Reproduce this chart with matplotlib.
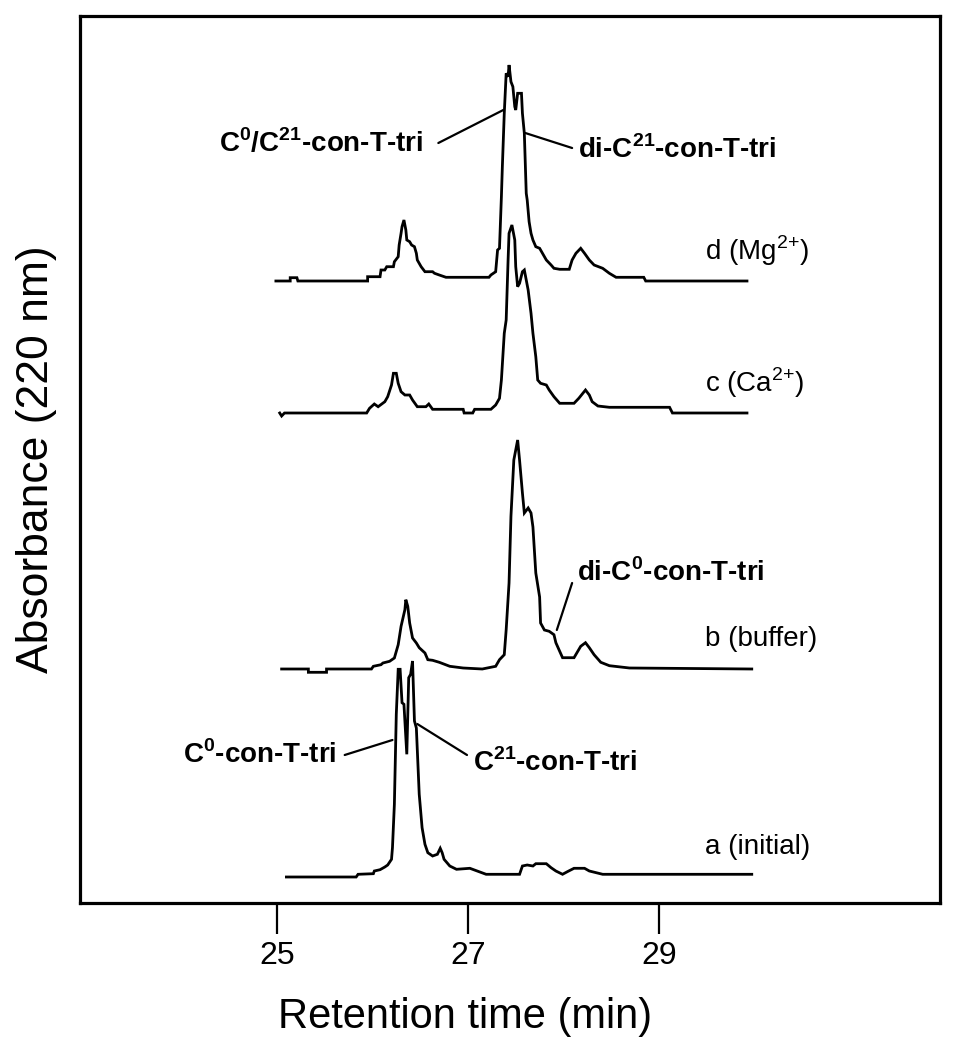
import matplotlib
matplotlib.use("Agg")
from matplotlib import pyplot as plt
from matplotlib import font_manager

# chromatogram traces, (retention time in min, absorbance above own baseline, a.u.)
trace_a = [(25.10, 0), (25.83, 0), (25.85, 2.7), (26.01, 3.3), (26.02, 6), (26.08, 7.3),
           (26.13, 10), (26.16, 12), (26.20, 17.7), (26.21, 29.3), (26.23, 72.7), (26.25, 162.7),
           (26.27, 207.7), (26.29, 207.7), (26.31, 174.3), (26.33, 172.7), (26.36, 122.7),
           (26.38, 199.3), (26.40, 202.7), (26.42, 216), (26.44, 156), (26.46, 149), (26.49, 82.7),
           (26.52, 49.3), (26.55, 32.7), (26.58, 24.3), (26.63, 21), (26.68, 22.7), (26.71, 28.7),
           (26.73, 24.3), (26.75, 17.7), (26.81, 11), (26.88, 7.7), (27.02, 8.7), (27.19, 2.7),
           (27.54, 2.7), (27.57, 11), (27.62, 12), (27.68, 11), (27.71, 13.3), (27.82, 13.3),
           (27.87, 9.3), (27.92, 6), (27.99, 2.7), (28.04, 5.3), (28.11, 8.7), (28.22, 8.7),
           (28.27, 6), (28.41, 2.7), (29.97, 2.7)]

trace_b = [(25.05, 0), (25.33, 0), (25.33, -3.3), (25.52, -3.3), (25.52, 0), (25.99, 0),
           (26.01, 2.7), (26.09, 4.3), (26.11, 6), (26.18, 7.7), (26.23, 11), (26.27, 24.3),
           (26.30, 42.7), (26.34, 59.3), (26.35, 69.3), (26.37, 62.7), (26.39, 46), (26.42, 31),
           (26.46, 26), (26.49, 21.3), (26.55, 16), (26.58, 9.3), (26.63, 8.7), (26.70, 6.7),
           (26.81, 2.7), (26.95, 1), (27.15, 0), (27.29, 2.7), (27.33, 9.3), (27.38, 14.3),
           (27.40, 39.3), (27.43, 86), (27.45, 152.7), (27.48, 209), (27.52, 229), (27.54, 209),
           (27.57, 176), (27.59, 156), (27.63, 161), (27.66, 156), (27.68, 142), (27.71, 96),
           (27.75, 72), (27.76, 46), (27.80, 39), (27.85, 37.7), (27.90, 34.3), (27.92, 26.3),
           (27.96, 17.7), (27.99, 11.3), (28.11, 11.3), (28.18, 22.7), (28.23, 26.3),
           (28.27, 21.3), (28.32, 14.3), (28.39, 6.7), (28.48, 3.3), (28.69, 1), (29.97, 0)]

trace_c = [(25.03, 0), (25.05, -3), (25.08, 0), (25.94, 0), (25.97, 4.7), (26.02, 9),
           (26.06, 6.3), (26.13, 11.3), (26.16, 16.3), (26.20, 28), (26.22, 39.7), (26.25, 39.7),
           (26.27, 29.7), (26.30, 21.3), (26.34, 18), (26.39, 18), (26.42, 13), (26.47, 6.3),
           (26.56, 6.3), (26.59, 9), (26.63, 3.7), (26.95, 3.7), (26.96, 0), (27.05, 0),
           (27.07, 3.7), (27.24, 3.7), (27.29, 8), (27.33, 14.7), (27.35, 33), (27.38, 79.7),
           (27.40, 93), (27.42, 153), (27.43, 179.7), (27.46, 188), (27.49, 173), (27.50, 146.3),
           (27.52, 126.3), (27.54, 129.7), (27.57, 141.3), (27.59, 143), (27.61, 133),
           (27.63, 123), (27.66, 99.7), (27.68, 79.7), (27.71, 56.3), (27.73, 33), (27.76, 29.7),
           (27.82, 28), (27.85, 23), (27.90, 16.3), (27.96, 9.7), (28.11, 9.7), (28.16, 14.7),
           (28.23, 23), (28.27, 18), (28.30, 11.3), (28.36, 7), (28.48, 5.7), (29.11, 5.7),
           (29.14, 0), (29.92, 0)]

trace_d = [(24.99, 0), (25.14, 0), (25.14, 3.3), (25.21, 3.3), (25.22, 0), (25.95, 0),
           (25.95, 4.3), (26.08, 4.3), (26.09, 11), (26.13, 11), (26.15, 14.3), (26.22, 14.3),
           (26.23, 19.3), (26.27, 24.3), (26.28, 36), (26.30, 47.7), (26.31, 54.3), (26.33, 61),
           (26.35, 51), (26.36, 41), (26.39, 39.3), (26.41, 36), (26.44, 34.3), (26.46, 27.7),
           (26.47, 21), (26.51, 14.3), (26.55, 9.3), (26.63, 9.3), (26.65, 7.7), (26.70, 6),
           (26.77, 3.7), (27.22, 3.7), (27.24, 6), (27.29, 9.3), (27.31, 31), (27.33, 32.7),
           (27.35, 84.3), (27.36, 114.3), (27.38, 167.7), (27.40, 207.7), (27.42, 204.3),
           (27.43, 216), (27.45, 199.3), (27.47, 194.3), (27.49, 174.3), (27.50, 171),
           (27.52, 187.7), (27.56, 187.7), (27.57, 167.7), (27.59, 147.7), (27.61, 87.7),
           (27.62, 81), (27.64, 59.3), (27.66, 47.7), (27.68, 41), (27.71, 34.3), (27.75, 32.7),
           (27.78, 27.7), (27.82, 21), (27.87, 16), (27.90, 12.7), (27.96, 11.7), (28.06, 11.7),
           (28.09, 21), (28.13, 27.7), (28.18, 32.7), (28.22, 27.7), (28.27, 21), (28.32, 16),
           (28.41, 12.7), (28.48, 7.7), (28.55, 3.7), (28.84, 3.7), (28.86, 0), (29.92, 0)]

traces = [trace_a, trace_b, trace_c, trace_d]
trace_offsets = [26, 234, 490, 622]
trace_names = ['a (initial)', 'b (buffer)', 'c (Ca$^{2{+}}$)', 'd (Mg$^{2{+}}$)']
x_ticks = [25, 27, 29]

names = {f.name for f in font_manager.fontManager.ttflist}
base_font = 'Liberation Sans' if 'Liberation Sans' in names else 'DejaVu Sans'
plt.rcParams['font.family'] = [base_font, 'DejaVu Sans']
plt.rcParams['mathtext.fontset'] = 'custom'
plt.rcParams['mathtext.rm'] = base_font
plt.rcParams['mathtext.bf'] = base_font + ':bold'

fig = plt.figure(figsize=(9.54, 10.5), dpi=100)
ax = fig.add_axes([80 / 954, 147 / 1050, 860 / 954, 887 / 1050])

for pts, off, name in zip(traces, trace_offsets, trace_names):
    t = [p[0] for p in pts]
    v = [p[1] + off for p in pts]
    ax.plot(t, v, color='black', lw=2.0, solid_joinstyle='miter')
    ax.text(29.48, off + 30, name, fontsize=20, ha='left', va='center')

ax.set_xlim(22.94, 31.94)
ax.set_ylim(0, 887)
ax.set_xticks(x_ticks)
ax.set_yticks([])
ax.tick_params(axis='x', direction='out', length=22, width=1.6, pad=5, labelsize=23)
for s in ax.spines.values():
    s.set_linewidth(2.3)

ax.set_xlabel('Retention time (min)', fontsize=30, va='center')
ax.xaxis.set_label_coords(0.448, -0.128)
ax.set_ylabel('Absorbance (220 nm)', fontsize=32, va='center')
ax.yaxis.set_label_coords(-0.050, 0.5)

# peak labels
lbl = dict(fontsize=20, fontweight='bold', va='center')
line = dict(arrowstyle='-', color='black', lw=1.6, shrinkA=0, shrinkB=0)
ax.text(26.53, 760, r'C$^{\mathbf{0}}$/C$^{\mathbf{21}}$-con-T-tri', ha='right', **lbl)
ax.annotate('', xy=(27.37, 793), xytext=(26.69, 760), arrowprops=line)
ax.text(28.15, 753, r'di-C$^{\mathbf{21}}$-con-T-tri', ha='left', **lbl)
ax.annotate('', xy=(27.60, 770), xytext=(28.09, 755), arrowprops=line)
ax.text(28.14, 330, r'di-C$^{\mathbf{0}}$-con-T-tri', ha='left', **lbl)
ax.annotate('', xy=(27.93, 273), xytext=(28.09, 320), arrowprops=line)
ax.text(25.63, 148, r'C$^{\mathbf{0}}$-con-T-tri', ha='right', **lbl)
ax.annotate('', xy=(26.21, 163), xytext=(25.71, 148), arrowprops=line)
ax.text(27.05, 140, r'C$^{\mathbf{21}}$-con-T-tri', ha='left', **lbl)
ax.annotate('', xy=(26.47, 179), xytext=(26.99, 148), arrowprops=line)

fig.savefig('out.png', dpi=100)
